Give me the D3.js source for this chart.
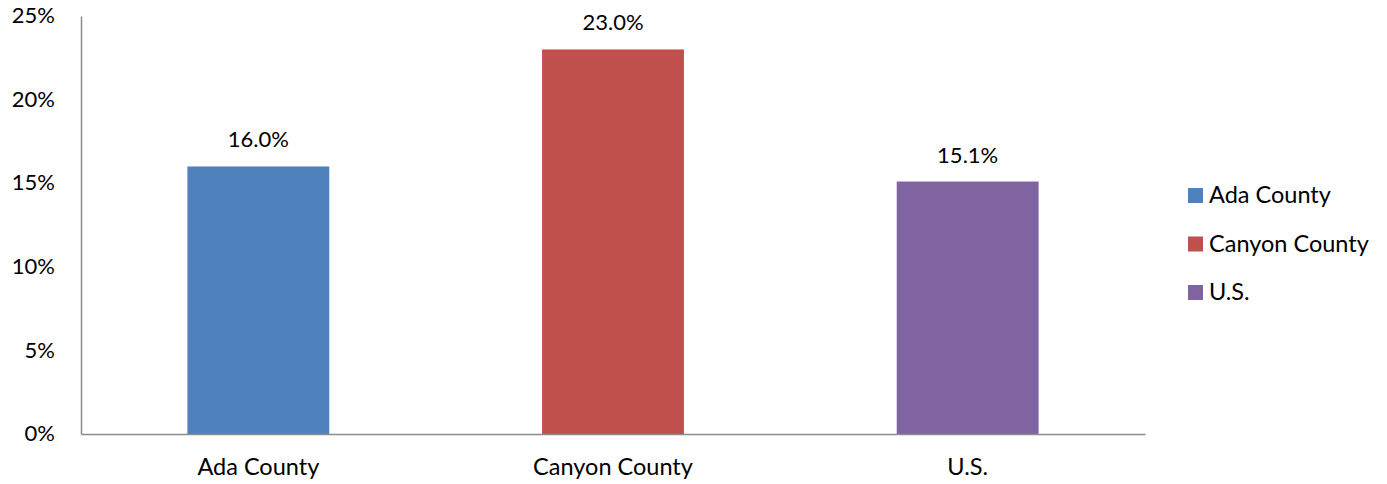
<!DOCTYPE html>
<html><head><meta charset="utf-8">
<script src="https://cdn.jsdelivr.net/npm/d3@7"></script>
<style>body{margin:0;background:#fff;} text{font-family:Lato,"Open Sans",sans-serif;fill:#000;}</style>
</head><body><svg id="c" width="1387" height="484"></svg>
<script>
const categories = ["Ada County", "Canyon County", "U.S."];
const values = [16.0, 23.0, 15.1];
const colors = ["#4f81bd", "#c0504d", "#8064a2"];
const yTicks = [0, 5, 10, 15, 20, 25];

(function(){
const svg = d3.select("#c");
const mLeft = 81, mRight = 1145, mTop = 16, mBottom = 434;
const x = d3.scaleBand().domain(categories).range([mLeft, mRight]).paddingInner(0.6).paddingOuter(0.3);
const y = d3.scaleLinear().domain([0, 25]).range([mBottom, mTop]);

svg.selectAll("rect.bar").data(values).enter().append("rect")
  .attr("class", "bar")
  .attr("x", (d,i) => x(categories[i]))
  .attr("y", d => y(d))
  .attr("width", x.bandwidth())
  .attr("height", d => mBottom - y(d))
  .attr("fill", (d,i) => colors[i]);

const yAxis = d3.axisLeft(y).tickValues(yTicks).tickFormat(d => d + "%").tickSize(0).tickPadding(26);
const gy = svg.append("g").attr("transform", `translate(${mLeft},0)`).call(yAxis);
gy.select(".domain").attr("stroke", "#8c8c8c").attr("stroke-width", 1.5);
gy.selectAll("text").style("font-size", "22px").attr("fill", "#000").attr("dy", "0.3em");

const xAxis = d3.axisBottom(x).tickSize(0).tickPadding(24);
const gx = svg.append("g").attr("transform", `translate(0,${mBottom})`).call(xAxis);
gx.select(".domain").attr("stroke", "#8c8c8c").attr("stroke-width", 1.5);
gx.selectAll("text").style("font-size", "23.5px").attr("fill", "#000");

svg.selectAll("text.val").data(values).enter().append("text")
  .attr("class", "val")
  .attr("x", (d,i) => x(categories[i]) + x.bandwidth()/2)
  .attr("y", d => y(d) - 19)
  .attr("text-anchor", "middle")
  .style("font-size", "22px")
  .text(d => d.toFixed(1) + "%");

const lg = svg.append("g").attr("transform", "translate(1188,0)");
categories.forEach((c, i) => {
  const cy = 195 + i * 48.5;
  lg.append("rect").attr("x", 0).attr("y", cy - 7).attr("width", 15).attr("height", 15).attr("fill", colors[i]);
  lg.append("text").attr("x", 21).attr("y", cy + 8).style("font-size", "23.5px").text(c);
});
})();
</script></body></html>
